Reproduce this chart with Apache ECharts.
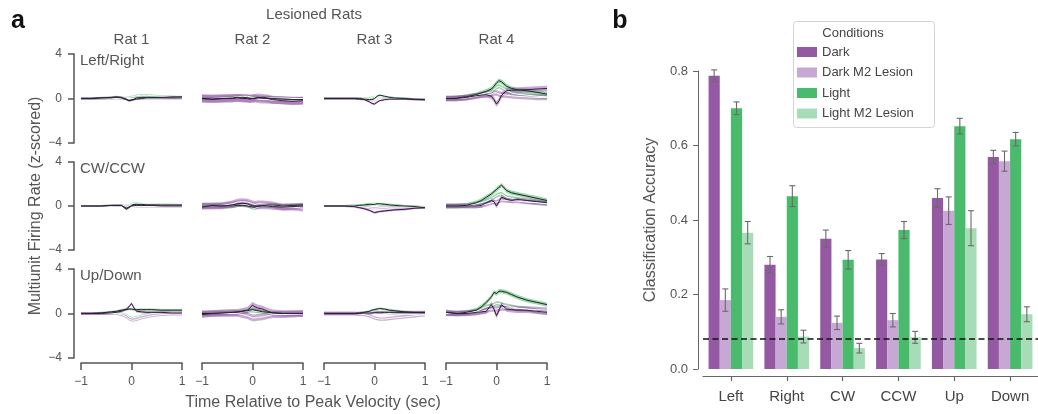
<!DOCTYPE html>
<html><head><meta charset="utf-8">
<script src="https://cdn.jsdelivr.net/npm/echarts@6/dist/echarts.min.js"></script>
<style>html,body{margin:0;padding:0;background:#fff}#c{width:1038px;height:414px}</style>
</head><body><div id="c"></div>
<script>
// ---------- Panel a data ----------
const timePts = [-1,-0.8,-0.6,-0.4,-0.3,-0.2,-0.1,-0.05,0,0.05,0.1,0.2,0.3,0.4,0.6,0.8,1];
const rowNames = ['Left/Right','CW/CCW','Up/Down'];
const ratNames = ['Rat 1','Rat 2','Rat 3','Rat 4'];
const xTicks = [-1, 0, 1];
const yTicks = [-4, 0, 4];

// each: [Rat1, Rat2, Rat3, Rat4]
const lrLightA = [
 [0,0,0.05,0.1,0.15,0.1,-0.05,-0.2,-0.15,-0.05,0.05,0.1,0.1,0.1,0.1,0.15,0.15],
 [0,-0.05,0,0.05,0.1,0.1,0.05,0,0,0,0.05,0.1,0.05,0,-0.05,-0.1,-0.1],
 [0,0,0,0,0,-0.05,-0.1,-0.1,0,0.2,0.3,0.2,0.1,0.05,0,-0.05,-0.1],
 [0,0.05,0.15,0.35,0.5,0.65,0.85,1.1,1.4,1.6,1.5,1.1,0.9,0.8,0.7,0.55,0.4]];
const lrLightB = [
 [0,0,0,0.05,0.05,0.05,0.05,0.1,0.15,0.2,0.25,0.3,0.3,0.25,0.2,0.15,0.1],
 [0,0,0.05,0.1,0.15,0.2,0.2,0.15,0.1,0.1,0.1,0.1,0.1,0.05,0.05,0,0],
 [0,0,0,0,0,0,0.05,0.1,0.15,0.2,0.2,0.15,0.1,0.05,0,-0.05,-0.1],
 [0,0.05,0.1,0.3,0.4,0.5,0.6,0.8,1.0,1.1,1.0,0.7,0.5,0.4,0.3,0.2,0.15]];
const lrDarkA = [
 [0,0,0.05,0.05,0.1,0.05,-0.1,-0.2,-0.15,-0.1,-0.05,0,0.05,0.05,0.05,0.05,0.05],
 [0,-0.05,0,0,0.05,0,0,-0.05,0,0.05,0.1,0.05,0,-0.1,-0.2,-0.25,-0.2],
 [0,0,0,0,-0.05,-0.1,-0.3,-0.45,-0.5,-0.35,-0.2,-0.1,-0.05,-0.05,-0.05,-0.1,-0.1],
 [0,0,0.1,0.25,0.3,0.35,0.2,-0.1,-0.5,-0.2,0.3,0.7,0.75,0.75,0.8,0.85,0.9]];
const lrDarkB = [
 [0,0,0,0,0,0,0,0,0,0,0,0,0,0,0,-0.05,0],
 [0,0,0,0.05,0.05,0.05,0,0,0,0,-0.05,-0.1,-0.1,-0.15,-0.15,-0.2,-0.2],
 [0,0,0,0,0,-0.05,-0.1,-0.2,-0.3,-0.2,-0.1,-0.05,0,0,-0.05,-0.05,-0.1],
 [0,0,0.05,0.2,0.3,0.35,0.4,0.5,0.5,0.4,0.35,0.3,0.25,0.2,0.15,0.1,0.1]];

const cwLightA = [
 [0,0,0,0.05,0.05,0.05,-0.3,-0.15,0.05,0.15,0.15,0.15,0.1,0.1,0.1,0.1,0.1],
 [-0.1,0.05,0,0,0.05,0.05,0,-0.05,-0.1,-0.1,-0.05,0.05,0.1,0.1,0,0.05,0.1],
 [0,0,0,0,0.05,0.1,0.15,0.15,0.15,0.2,0.2,0.15,0.1,0.05,0,-0.05,-0.15],
 [0,0,0.05,0.3,0.5,0.8,1.1,1.3,1.5,1.7,1.9,1.4,1.2,1.1,0.9,0.7,0.5]];
const cwLightB = [
 [0,0,0,0,0.05,0.05,0.1,0.1,0.2,0.25,0.25,0.2,0.2,0.2,0.15,0.15,0.1],
 [0,0,0,0,0.05,0.1,0.1,0,-0.2,-0.2,-0.1,0,0,0,0,0,0],
 [0,0,0,0.05,0.05,0.1,0.15,0.2,0.2,0.2,0.15,0.1,0.1,0.05,0,-0.05,-0.1],
 [0,0,0.05,0.2,0.3,0.45,0.65,0.8,0.95,1.05,1.1,0.8,0.7,0.6,0.4,0.3,0.2]];
const cwDarkA = [
 [0,0,0,0.05,0.05,0.05,-0.2,-0.1,0,0.05,0.05,0.05,0.05,0.05,0,0,0],
 [0,0,0,0.1,0.2,0.25,0.2,0.1,0.05,0,0,0,0,-0.05,-0.1,-0.05,0],
 [0,0,0,-0.05,-0.15,-0.25,-0.4,-0.5,-0.6,-0.55,-0.5,-0.45,-0.4,-0.35,-0.3,-0.2,-0.15],
 [0,0,0,0,0.05,0.3,0.5,0.4,0,0.4,0.8,0.6,0.5,0.6,0.5,0.4,0.3]];
const cwDarkB = [
 [0,0,0,0,0,0,0,0,0,0,-0.05,-0.05,-0.05,-0.05,-0.05,-0.05,-0.05],
 [0,0,0.05,0.2,0.35,0.4,0.35,0.3,0.2,0.15,0.2,0.2,0.15,0.1,-0.1,-0.1,-0.2],
 [0,0,0,0,-0.05,-0.1,-0.15,-0.2,-0.2,-0.2,-0.15,-0.15,-0.1,-0.1,-0.1,-0.1,-0.1],
 [0,0,0,0,0.05,0.15,0.3,0.35,0.35,0.45,0.55,0.5,0.45,0.45,0.35,0.3,0.25]];

const udLightA = [
 [0,0,0.05,0.15,0.2,0.3,0.35,0.4,0.4,0.35,0.35,0.35,0.35,0.35,0.3,0.3,0.3],
 [0,0,0.05,0.1,0.15,0.2,0.25,0.3,0.35,0.3,0.25,0.15,0.1,0.05,0,0,0],
 [0,0,0,0,0.05,0.1,0.2,0.3,0.35,0.4,0.45,0.4,0.3,0.25,0.15,0.1,0.1],
 [0.1,0,0.1,0.3,0.6,1.0,1.5,1.9,1.8,2.0,2.0,1.9,1.7,1.5,1.2,1.0,0.8]];
const udLightB = [
 [0,0,0,0.05,0.05,0,-0.1,-0.3,-0.4,-0.4,-0.3,-0.2,-0.1,0,0.05,0.1,0.1],
 [0,0,0.05,0.1,0.1,0.15,0.2,0.25,0.25,0.2,0.2,0.1,0.05,0,0,-0.05,-0.05],
 [0,0,0,0,0,0.05,0.1,0.15,0.15,0.1,0.1,0.05,0,-0.05,-0.1,-0.1,-0.15],
 [0,0,0.05,0.2,0.4,0.6,0.7,0.8,0.9,0.9,0.8,0.7,0.6,0.5,0.4,0.2,0.1]];
const udDarkA = [
 [0,0,0,0.05,0.1,0.2,0.4,0.6,0.9,0.5,0.2,0.15,0.1,0.1,0.1,0.05,0.05],
 [-0.1,0,0.05,0.1,0.1,0.2,0.3,0.5,0.75,0.6,0.5,0.4,0.2,0.05,0,0,0],
 [0,0,0,0,0,0.05,0.05,0.05,0.1,0.1,0.1,0.1,0.1,0.1,0.1,0.1,0.1],
 [0.1,0,0,0.1,0.15,0.2,0.8,0.4,-0.2,0.3,0.8,0.4,0.35,0.3,0.3,0.2,0.1]];
const udDarkB = [
 [0,0,0,0,0,-0.1,-0.3,-0.5,-0.6,-0.6,-0.55,-0.4,-0.3,-0.2,-0.1,-0.05,-0.05],
 [0,0,0,0,0,-0.1,-0.2,-0.3,-0.4,-0.4,-0.35,-0.3,-0.2,-0.1,-0.1,-0.05,0],
 [0,0,0,0,-0.05,-0.1,-0.2,-0.3,-0.4,-0.45,-0.5,-0.5,-0.45,-0.4,-0.3,-0.2,-0.1],
 [0,0,0.05,0.1,0.2,0.3,0.4,0.4,0.4,0.45,0.5,0.5,0.5,0.45,0.4,0.35,0.3]];

// band half-widths (SEM) per row, per rat
const semLight = [[0.1,0.12,0.08,0.2],[0.08,0.15,0.1,0.2],[0.1,0.15,0.1,0.2]];
const semDark  = [[0.08,0.35,0.08,0.25],[0.08,0.3,0.1,0.2],[0.12,0.3,0.15,0.25]];

// ---------- Panel b data ----------
const categories = ['Left','Right','CW','CCW','Up','Down'];
const condNames = ['Dark','Dark M2 Lesion','Light','Light M2 Lesion'];
const accDark    = [0.787,0.280,0.350,0.294,0.459,0.569];
const errDark    = [0.016,0.022,0.023,0.016,0.025,0.018];
const accDarkM2  = [0.185,0.140,0.124,0.131,0.425,0.558];
const errDarkM2  = [0.030,0.019,0.018,0.018,0.037,0.027];
const accLight   = [0.700,0.464,0.293,0.373,0.652,0.617];
const errLight   = [0.017,0.028,0.025,0.023,0.021,0.018];
const accLightM2 = [0.366,0.087,0.056,0.085,0.378,0.147];
const errLightM2 = [0.030,0.017,0.013,0.016,0.047,0.020];
const chanceLevel = 0.0833;

// ---------- build ----------
const FONT = "'Liberation Sans', Arial, Helvetica, sans-serif";
const TXT = '#555';
const minus = v => (v < 0 ? '\u2212' + Math.abs(v) : String(v));
const rowData = [
  [lrLightA, lrLightB, lrDarkA, lrDarkB],
  [cwLightA, cwLightB, cwDarkA, cwDarkB],
  [udLightA, udLightB, udDarkA, udDarkB]];
const colLeft = [81, 202, 324, 446];
const colW = 101;
const rowTop = [54, 162, 269];
const rowH = [89, 88, 89];

const grids = [], xAxes = [], yAxes = [], series = [];
const GREEN_BAND = 'rgba(80,180,105,0.55)';
const PURPLE_BAND = 'rgba(145,85,165,0.5)';

function band(g, mean, sem, color) {
  return {
    type: 'custom', xAxisIndex: g, yAxisIndex: g, silent: true, z: 1,
    data: timePts.map((t, i) => [t, mean[i]]),
    renderItem: function (params, api) {
      if (params.dataIndex !== 0) return;
      const up = timePts.map((t, i) => api.coord([t, mean[i] + sem]));
      const lo = timePts.map((t, i) => api.coord([t, mean[i] - sem])).reverse();
      return { type: 'polygon', shape: { points: up.concat(lo) }, style: { fill: color } };
    }
  };
}
function line(g, mean, color, z) {
  return {
    type: 'line', xAxisIndex: g, yAxisIndex: g, silent: true, z: z,
    data: timePts.map((t, i) => [t, mean[i]]),
    showSymbol: false, symbol: 'none',
    lineStyle: { color: color, width: 1 }
  };
}

for (let r = 0; r < 3; r++) {
  for (let c = 0; c < 4; c++) {
    const g = r * 4 + c;
    grids.push({ left: colLeft[c], top: rowTop[r], width: colW, height: rowH[r] });
    xAxes.push({
      gridIndex: g, type: 'value', min: -1, max: 1, interval: 1,
      show: r === 2, offset: 5, position: 'bottom',
      axisLine: { show: true, onZero: false, lineStyle: { color: '#555', width: 1.5 } },
      axisTick: { show: true, length: 7, lineStyle: { color: '#555', width: 1.5 } },
      axisLabel: { formatter: minus, color: TXT, fontSize: 12, fontFamily: FONT, margin: 13 },
      splitLine: { show: false }
    });
    yAxes.push({
      gridIndex: g, type: 'value', min: -4, max: 4, interval: 4,
      show: c === 0, offset: 7, position: 'left',
      axisLine: { show: true, onZero: false, lineStyle: { color: '#555', width: 1.5 } },
      axisTick: { show: true, length: 6, lineStyle: { color: '#555', width: 1.5 } },
      axisLabel: { formatter: minus, color: TXT, fontSize: 12, fontFamily: FONT, margin: 12 },
      splitLine: { show: false }
    });
    const [la, lb, da, db] = rowData[r].map(a => a[c]);
    series.push(band(g, la, semLight[r][c], GREEN_BAND));
    series.push(band(g, lb, semLight[r][c], GREEN_BAND));
    series.push(band(g, da, semDark[r][c], PURPLE_BAND));
    series.push(band(g, db, semDark[r][c], PURPLE_BAND));
    series.push(line(g, lb, '#ffffff', 3));
    series.push(line(g, db, '#ffffff', 3));
    series.push(line(g, la, '#172c1b', 4));
    series.push(line(g, da, '#351a42', 4));
  }
}

// Panel b
const B = 12;
grids.push({ left: 703, right: -5, top: 71, bottom: 45 });
xAxes.push({
  gridIndex: B, type: 'category', data: categories, offset: 7,
  axisLine: { show: true, onZero: false, lineStyle: { color: '#666', width: 1.2 } },
  axisTick: { show: true, alignWithLabel: true, length: 5, lineStyle: { color: '#666', width: 1.2 } },
  axisLabel: { color: '#444', fontSize: 15, fontFamily: FONT, margin: 13 }
});
yAxes.push({
  gridIndex: B, type: 'value', min: 0, max: 0.8, interval: 0.2, offset: 5,
  axisLine: { show: true, onZero: false, lineStyle: { color: '#666', width: 1 } },
  axisTick: { show: true, length: 5, lineStyle: { color: '#666', width: 1 } },
  axisLabel: { color: TXT, fontSize: 13, fontFamily: FONT, margin: 10, formatter: v => v.toFixed(1) },
  splitLine: { show: false }
});
const barColors = ['#9558a3', '#c7a8d4', '#4aba6c', '#a7ddb6'];
const accs = [accDark, accDarkM2, accLight, accLightM2];
const errs = [errDark, errDarkM2, errLight, errLightM2];
for (let k = 0; k < 4; k++) {
  const s = {
    type: 'bar', name: condNames[k], xAxisIndex: B, yAxisIndex: B,
    data: accs[k], barGap: '0%', barCategoryGap: '20%',
    itemStyle: { color: barColors[k] }, z: 2
  };
  if (k === 0) {
    s.markLine = {
      silent: true, symbol: ['none', 'none'], label: { show: false },
      lineStyle: { color: '#111', type: [6, 3.5], width: 1.6 },
      data: [{ yAxis: chanceLevel }], z: 6
    };
  }
  series.push(s);
}
for (let k = 0; k < 4; k++) {
  series.push({
    type: 'custom', xAxisIndex: B, yAxisIndex: B, z: 5, silent: true, clip: false,
    encode: { x: 0, y: [1, 2] },
    data: accs[k].map((v, i) => [i, v - errs[k][i], v + errs[k][i]]),
    renderItem: function (params, api) {
      const i = api.value(0);
      const lo = api.coord([i, api.value(1)]);
      const hi = api.coord([i, api.value(2)]);
      const bw = api.size([1, 0])[0] * 0.8 / 4;
      const x = lo[0] + (k - 1.5) * bw;
      const st = { stroke: '#6a6a6a', lineWidth: 1.1 };
      const cap = 3;
      return { type: 'group', children: [
        { type: 'line', shape: { x1: x, y1: lo[1], x2: x, y2: hi[1] }, style: st },
        { type: 'line', shape: { x1: x - cap, y1: lo[1], x2: x + cap, y2: lo[1] }, style: st },
        { type: 'line', shape: { x1: x - cap, y1: hi[1], x2: x + cap, y2: hi[1] }, style: st }
      ] };
    }
  });
}

const graphic = [
  { type: 'text', x: 18, y: 21, style: { text: 'a', font: "bold 25px " + FONT, fill: '#111', align: 'center', verticalAlign: 'middle' } },
  { type: 'text', x: 620, y: 21, style: { text: 'b', font: "bold 25px " + FONT, fill: '#111', align: 'center', verticalAlign: 'middle' } },
  { type: 'text', x: 314, y: 15, style: { text: 'Lesioned Rats', font: "15px " + FONT, fill: TXT, align: 'center', verticalAlign: 'middle' } },
  { type: 'text', x: 313, y: 403, style: { text: 'Time Relative to Peak Velocity (sec)', font: "16px " + FONT, fill: TXT, align: 'center', verticalAlign: 'middle' } },
  { type: 'text', x: 36, y: 206, rotation: Math.PI / 2, style: { text: 'Multiunit Firing Rate (z-scored)', font: "16px " + FONT, fill: TXT, align: 'center', verticalAlign: 'middle' } },
  { type: 'text', x: 651, y: 220, rotation: Math.PI / 2, style: { text: 'Classification Accuracy', font: "16px " + FONT, fill: TXT, align: 'center', verticalAlign: 'middle' } },
  { type: 'rect', left: 793, top: 21, shape: { width: 141, height: 106, r: 3 }, style: { fill: '#fff', stroke: '#d4d4d4', lineWidth: 1 }, z: 0 },
  { type: 'text', x: 853, y: 33, style: { text: 'Conditions', font: "13px " + FONT, fill: '#444', align: 'center', verticalAlign: 'middle' }, z: 10 }
];
ratNames.forEach((n, c) => graphic.push({ type: 'text', x: colLeft[c] + colW / 2, y: 40, style: { text: n, font: "15px " + FONT, fill: TXT, align: 'center', verticalAlign: 'middle' } }));
rowNames.forEach((n, r) => graphic.push({ type: 'text', x: 80, y: rowTop[r] + 7, style: { text: n, font: "15px " + FONT, fill: TXT, align: 'left', verticalAlign: 'middle' } }));

const chart = echarts.init(document.getElementById('c'), null, { renderer: 'canvas' });
chart.setOption({
  animation: false,
  backgroundColor: '#fff',
  grid: grids, xAxis: xAxes, yAxis: yAxes, series: series,
  legend: {
    data: condNames, orient: 'vertical', left: 797, top: 45,
    itemWidth: 20, itemHeight: 10, itemGap: 6.5, icon: 'rect', selectedMode: false,
    textStyle: { fontSize: 13, color: '#444', fontFamily: FONT, lineHeight: 14 },
    z: 10, padding: 0
  },
  graphic: graphic
});
</script></body></html>
